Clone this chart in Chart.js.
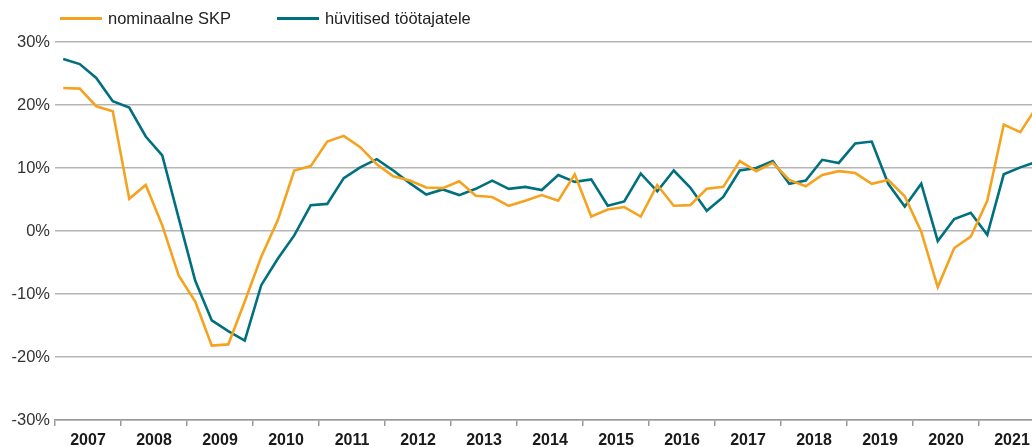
<!DOCTYPE html>
<html lang="et">
<head>
<meta charset="utf-8">
<title>Nominaalne SKP ja hüvitised töötajatele</title>
<script src="https://cdn.jsdelivr.net/npm/chart.js@4/dist/chart.umd.min.js"></script>
<style>
  html, body { margin: 0; padding: 0; background: #fff; overflow: hidden; }
  .wrap { position: relative; width: 1046px; height: 447px; }
  .legend {
    position: absolute; top: 9px; left: 60px;
    font-family: "Liberation Sans", Arial, sans-serif; font-size: 16.5px; color: #222;
    display: flex; gap: 46px; white-space: nowrap;
  }
  .legend span { display: inline-flex; align-items: center; }
  .legend i { display: inline-block; width: 42px; height: 3px; margin-right: 6px; }
</style>
</head>
<body>
<div class="wrap">
  <div class="legend" id="legend"></div>
  <canvas id="chart"></canvas>
</div>
<script>
// years shown on the axis; one value per quarter, 2007 Q1 onwards
const years = ["2007", "2008", "2009", "2010", "2011", "2012", "2013", "2014",
  "2015", "2016", "2017", "2018", "2019", "2020", "2021"];

const gdpNominal = [
  22.7, 22.6, 19.8, 19.0, 5.1, 7.3, 0.9, -7.1,
  -11.2, -18.2, -18.0, -11.2, -4.1, 1.7, 9.6, 10.3,
  14.2, 15.1, 13.3, 10.6, 8.7, 8.0, 6.9, 6.8,
  7.9, 5.6, 5.4, 4.0, 4.8, 5.7, 4.8, 9.0,
  2.3, 3.4, 3.8, 2.3, 7.3, 4.0, 4.1, 6.7,
  7.0, 11.1, 9.5, 10.8, 8.1, 7.1, 8.9, 9.5,
  9.2, 7.5, 8.1, 5.5, -0.1, -8.9, -2.7, -0.9,
  4.8, 16.9, 15.7, 19.7
];

const employeeComp = [
  27.3, 26.5, 24.3, 20.6, 19.6, 15.0, 12.0, 2.0,
  -7.9, -14.2, -15.9, -17.4, -8.6, -4.4, -0.7, 4.1,
  4.3, 8.4, 10.1, 11.4, 9.6, 7.6, 5.8, 6.6,
  5.7, 6.7, 8.0, 6.7, 7.0, 6.5, 8.9, 7.8,
  8.2, 4.0, 4.7, 9.1, 6.3, 9.6, 6.9, 3.2,
  5.4, 9.6, 10.0, 11.1, 7.5, 8.0, 11.3, 10.8,
  13.9, 14.2, 7.5, 3.9, 7.5, -1.6, 1.9, 2.9,
  -0.6, 9.0, 10.1, 11.0
];

const yTicks = [-30, -20, -10, 0, 10, 20, 30];

const seriesNames = ["nominaalne SKP", "hüvitised töötajatele"];
const seriesColors = ["#f5a31f", "#00707e"];

const font = "'Liberation Sans', Arial, sans-serif";

// quarter index -> point on the hidden linear axis
const toPoints = (arr) => arr.map((v, i) => ({ x: i, y: v }));

// legend as plain html
const legend = document.getElementById("legend");
seriesNames.forEach((name, i) => {
  const item = document.createElement("span");
  item.innerHTML = `<i style="background:${seriesColors[i]}"></i>${name}`;
  legend.appendChild(item);
});

new Chart(document.getElementById("chart"), {
  type: "line",
  data: {
    labels: years,
    datasets: [
      {
        label: seriesNames[0],
        data: toPoints(gdpNominal),
        xAxisID: "q",
        borderColor: seriesColors[0],
        borderWidth: 2.6,
        pointRadius: 0,
        tension: 0,
        fill: false,
      },
      {
        label: seriesNames[1],
        data: toPoints(employeeComp),
        xAxisID: "q",
        borderColor: seriesColors[1],
        borderWidth: 2.6,
        pointRadius: 0,
        tension: 0,
        fill: false,
      },
    ],
  },
  options: {
    responsive: true,
    maintainAspectRatio: false,
    animation: false,
    layout: { padding: { top: 42, left: 0, right: 1, bottom: 0 } },
    plugins: { legend: { display: false }, tooltip: { enabled: false } },
    scales: {
      x: {
        type: "category",
        offset: true,
        grid: {
          offset: true,
          drawOnChartArea: false,
          drawTicks: true,
          tickLength: 6,
          color: "#9a9a9a",
          lineWidth: 1.5,
        },
        border: { display: true, color: "#9a9a9a", width: 1.5 },
        ticks: {
          color: "#1a1a1a",
          font: { family: font, size: 16, weight: "bold" },
          padding: 5,
          maxRotation: 0,
          autoSkip: false,
        },
        afterFit: (scale) => { scale.height = 27; },
      },
      q: {
        type: "linear",
        display: false,
        min: -0.5,
        max: years.length * 4 - 0.5,
      },
      y: {
        min: yTicks[0],
        max: yTicks[yTicks.length - 1],
        afterBuildTicks: (scale) => { scale.ticks = yTicks.map((v) => ({ value: v })); },
        grid: { color: "#b5b5b5", lineWidth: 1.5, drawTicks: false },
        border: { display: false },
        ticks: {
          color: "#333",
          font: { family: font, size: 16.5 },
          padding: 5,
          callback: (v) => v + "%",
        },
        afterFit: (scale) => { scale.width = 55; },
      },
    },
  },
});
</script>
</body>
</html>
